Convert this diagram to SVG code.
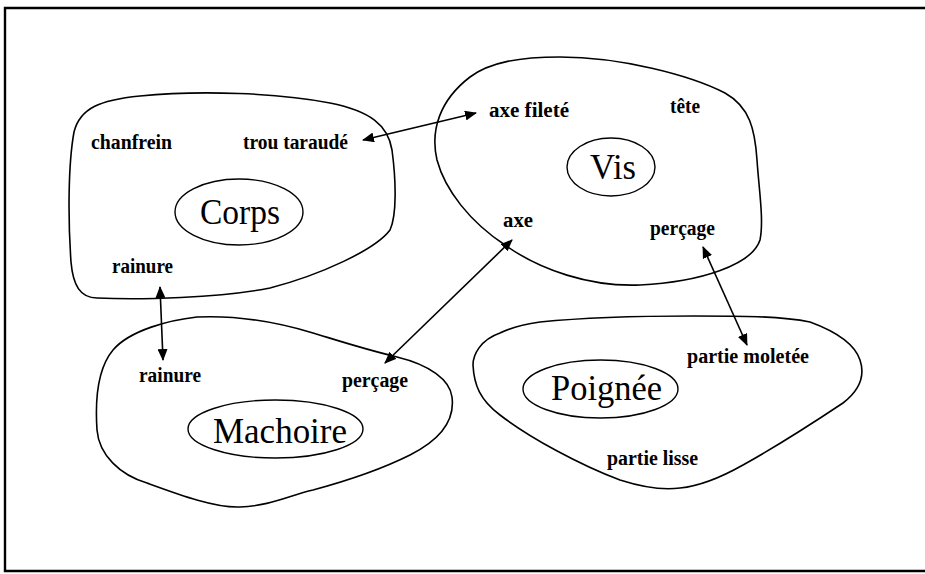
<svg xmlns="http://www.w3.org/2000/svg" width="925" height="574" viewBox="0 0 925 574">
<style>
.blob{fill:none;stroke:#000;stroke-width:1.6}
.core{fill:none;stroke:#000;stroke-width:1.4}
.lbl{font-family:"Liberation Serif","Times New Roman",serif;font-weight:bold;font-size:20px;fill:#000}
.big{font-family:"Liberation Serif","Times New Roman",serif;font-size:36px;fill:#000}
.conn{stroke:#000;stroke-width:1.6;fill:none;marker-start:url(#ah);marker-end:url(#ah)}
</style>
<defs>
<marker id="ah" markerUnits="userSpaceOnUse" viewBox="0 0 12 10" refX="11" refY="5" markerWidth="12" markerHeight="10" orient="auto-start-reverse">
<path d="M0,0 L12,5 L0,10 Z" fill="#000"/>
</marker>
</defs>
<rect width="925" height="574" fill="#fff"/>
<path d="M925,8 H5 V571 H925" fill="none" stroke="#000" stroke-width="2.4"/>

<g id="corps">
<path class="blob" d="M97,298 C80,298 73,285 71,262 C68,220 68,165 74,132 C80,108 100,100 140,96 C200,90 280,93 330,103 C370,111 388,125 392,150 C396,180 397,215 390,230 C375,250 320,275 270,288 C220,298 140,300 97,298 Z"/>
<ellipse class="core" cx="239" cy="212" rx="64" ry="33"/>
<text class="big" x="200" y="224" textLength="80" lengthAdjust="spacingAndGlyphs">Corps</text>
<text class="lbl" x="91" y="149" textLength="81" lengthAdjust="spacingAndGlyphs">chanfrein</text>
<text class="lbl" x="243" y="149" textLength="105" lengthAdjust="spacingAndGlyphs">trou taraudé</text>
<text class="lbl" x="112" y="273" textLength="61" lengthAdjust="spacingAndGlyphs">rainure</text>
</g>

<g id="vis">
<path class="blob" d="M470,77 C490,62 520,57 560,57 C620,57 690,75 725,93 C750,107 755,130 757,160 C759,190 764,220 760,240 C752,265 700,282 640,285 C590,287 540,270 505,245 C470,222 445,190 437,160 C430,130 440,100 470,77 Z"/>
<ellipse class="core" cx="611" cy="167" rx="44" ry="29"/>
<text class="big" x="590" y="179" textLength="46" lengthAdjust="spacingAndGlyphs">Vis</text>
<text class="lbl" x="489" y="117" textLength="80" lengthAdjust="spacingAndGlyphs">axe fileté</text>
<text class="lbl" x="670" y="113" textLength="30" lengthAdjust="spacingAndGlyphs">tête</text>
<text class="lbl" x="503" y="227" textLength="30" lengthAdjust="spacingAndGlyphs">axe</text>
<text class="lbl" x="650" y="235" textLength="65" lengthAdjust="spacingAndGlyphs">perçage</text>
</g>

<g id="machoire">
<path class="blob" d="M197,317 C170,320 130,330 113,350 C98,368 95,400 97,430 C99,455 120,475 147,483 C180,495 215,508 240,507 C270,506 290,495 313,490 C350,480 380,470 410,455 C440,440 455,420 452,397 C450,380 430,365 397,357 C360,348 330,338 313,333 C280,323 240,315 197,317 Z"/>
<ellipse class="core" cx="275.5" cy="429" rx="87.5" ry="29"/>
<text class="big" x="213" y="443" textLength="134" lengthAdjust="spacingAndGlyphs">Machoire</text>
<text class="lbl" x="139" y="382" textLength="62" lengthAdjust="spacingAndGlyphs">rainure</text>
<text class="lbl" x="342" y="387" textLength="66" lengthAdjust="spacingAndGlyphs">perçage</text>
</g>

<g id="poignee">
<path class="blob" d="M500,333 C480,340 473,355 473,365 C474,385 480,400 500,415 C530,438 580,465 620,480 C645,488 665,490 680,488 C700,486 720,478 743,465 C770,450 810,425 843,403 C860,390 865,375 860,360 C855,345 840,333 810,322 C780,316 740,316 693,316 C640,316 580,318 540,322 C520,325 510,328 500,333 Z"/>
<ellipse class="core" cx="600.5" cy="389" rx="77.5" ry="29"/>
<text class="big" x="551" y="400" textLength="111" lengthAdjust="spacingAndGlyphs">Poignée</text>
<text class="lbl" x="687" y="363" textLength="122" lengthAdjust="spacingAndGlyphs">partie moletée</text>
<text class="lbl" x="607" y="465" textLength="91" lengthAdjust="spacingAndGlyphs">partie lisse</text>
</g>

<g id="connectors">
<line class="conn" x1="363" y1="140" x2="476" y2="113"/>
<line class="conn" x1="160" y1="287" x2="163" y2="360"/>
<line class="conn" x1="512" y1="240" x2="385" y2="363"/>
<line class="conn" x1="703" y1="247" x2="747" y2="345"/>
</g>
</svg>
